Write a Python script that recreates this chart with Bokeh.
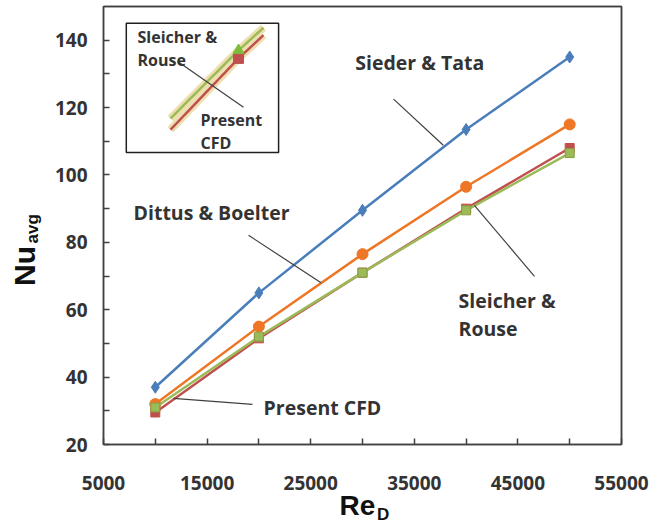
import numpy as np
from bokeh.plotting import figure
from bokeh.models import FixedTicker, Range1d, LinearAxis
from bokeh.core.properties import value
from bokeh.embed import file_html
from bokeh.resources import INLINE

# ---- data ----
re_d = [10000, 20000, 30000, 40000, 50000]
sieder_tata = [37.0, 65.0, 89.5, 113.5, 135.0]
dittus_boelter = [32.0, 55.0, 76.5, 96.5, 115.0]
sleicher_rouse = [31.0, 52.0, 71.0, 89.5, 106.5]
present_cfd = [29.5, 51.5, 71.0, 90.0, 108.0]

x_ticks = [5000, 15000, 25000, 35000, 45000, 55000]
x_minor = [10000, 20000, 30000, 40000, 50000]
y_ticks = [20, 40, 60, 80, 100, 120, 140]
y_minor = [30, 50, 70, 90, 110, 130]

BLUE = "#4A7EBB"
ORANGE = "#EE7625"
GREEN = "#9BBB59"
RED = "#C0504D"
TXT = "#333333"
FONT = "Open Sans"
TFONT = "Liberation Sans"
EDGE = "#404040"

p = figure(frame_width=518, frame_height=438, min_border_left=103, min_border_right=45,
           min_border_top=6, min_border_bottom=85,
           x_range=Range1d(5000, 55000), y_range=Range1d(20, 150),
           output_backend="svg", toolbar_location=None, background_fill_color="white")
p.xgrid.visible = False
p.ygrid.visible = False
p.outline_line_color = EDGE
p.outline_line_width = 1.5

for ax in (p.xaxis[0], p.yaxis[0]):
    ax.axis_line_color = EDGE
    ax.axis_line_width = 1.5
    ax.major_tick_in = 6
    ax.major_tick_out = 0
    ax.minor_tick_in = 6
    ax.minor_tick_out = 0
    ax.major_tick_line_color = EDGE
    ax.minor_tick_line_color = EDGE
    ax.major_tick_line_width = 1.5
    ax.minor_tick_line_width = 1.5
    ax.major_label_text_font = FONT
    ax.major_label_text_font_style = "bold"
    ax.major_label_text_font_size = "19px"
    ax.major_label_text_color = TXT
p.xaxis[0].ticker = FixedTicker(ticks=x_ticks, minor_ticks=x_minor)
p.yaxis[0].ticker = FixedTicker(ticks=y_ticks, minor_ticks=y_minor)
p.xaxis[0].major_label_standoff = 31
p.yaxis[0].major_label_standoff = 16

# frame border on top and right
for side in ("above", "right"):
    b = LinearAxis(ticker=FixedTicker(ticks=[]), axis_line_color=EDGE, axis_line_width=1.5,
                   major_tick_out=0, major_tick_in=0, minor_tick_out=0, minor_tick_in=0,
                   major_label_standoff=0)
    p.add_layout(b, side)

# axis titles with subscripts, each written as the single label of an extra axis
def title_axis(side, pos, txt, size, standoff, vertical=False):
    a = LinearAxis(ticker=FixedTicker(ticks=[pos]), major_label_overrides={pos: txt},
                   axis_line_color=None, major_tick_line_color=None, minor_tick_line_color=None,
                   major_tick_out=0, major_tick_in=0, minor_tick_out=0, minor_tick_in=0,
                   major_label_standoff=standoff, major_label_text_font=TFONT,
                   major_label_text_font_style="bold", major_label_text_font_size=size,
                   major_label_text_color="#111111")
    if vertical:
        a.major_label_orientation = "vertical"
    p.add_layout(a, side)

title_axis("left", 84, "avg", "17px", 9, vertical=True)
title_axis("left", 73, "Nu", "30px", -21, vertical=True)
title_axis("below", 29500, "Re", "28px", -3)
title_axis("below", 32000, "D", "17px", -19)

# ---- series ----
p.line(re_d, sieder_tata, line_color=BLUE, line_width=2.5)
p.scatter(re_d, sieder_tata, marker="diamond", size=12, fill_color=BLUE, line_color=BLUE)
p.line(re_d, dittus_boelter, line_color=ORANGE, line_width=2.5)
p.scatter(re_d, dittus_boelter, marker="circle", size=11, fill_color=ORANGE, line_color=ORANGE)
p.line(re_d, present_cfd, line_color=RED, line_width=2.5)
p.scatter(re_d, present_cfd, marker="square", size=9, fill_color=RED, line_color=RED)
p.line(re_d, sleicher_rouse, line_color=GREEN, line_width=2.5)
p.scatter(re_d, sleicher_rouse, marker="square", size=9, fill_color=GREEN, line_color="#8a9a40")

# ---- callouts and annotations ----
def note(x, y, txt, size="19.5px"):
    p.text([x], [y], text=[txt], text_font=value(FONT), text_font_style="bold",
           text_font_size=size, text_color=TXT, text_baseline="middle", text_align="left")

def lead(x0, y0, x1, y1):
    p.line([x0, x1], [y0, y1], line_color=EDGE, line_width=1.2)

note(29300, 133.5, "Sieder & Tata")
lead(33000, 122.5, 37800, 108.8)
note(7900, 88.9, "Dittus & Boelter")
lead(19000, 82.1, 26000, 68.0)
note(39270, 62.8, "Sleicher &")
note(39270, 54.5, "Rouse")
lead(40800, 91.0, 46600, 69.9)
note(20450, 31.0, "Present CFD")
lead(11750, 33.7, 19380, 31.9)

# ---- inset (magnified view around the 20000 point) ----
p.quad(left=7200, right=21900, bottom=106.7, top=145.0, fill_color="white",
       line_color="#202020", line_width=1.5)
ax0, ay0, sx, sy = 18030.0, 134.6, 3.24, 4.75
xs = np.linspace(20000 - 2026, 20000 + 745, 30)
def inset(xv, yv):
    return ax0 + (np.asarray(xv) - 20000) * sx, ay0 + (np.asarray(yv) - 51.5) * sy
for ser in (present_cfd, sleicher_rouse):
    ix, iy = inset(xs, np.interp(xs, re_d, ser))
    p.line(ix, iy, line_color="#EEDFB0", line_width=8)
for ser, col in ((present_cfd, RED), (sleicher_rouse, GREEN)):
    ix, iy = inset(xs, np.interp(xs, re_d, ser))
    p.line(ix, iy, line_color=col, line_width=2.5)
gx, gy = inset([20000], [sleicher_rouse[1]])
rx, ry = inset([20000], [present_cfd[1]])
p.scatter(rx, ry, marker="square", size=10, fill_color=RED, line_color=RED)
p.scatter(gx, gy, marker="triangle", size=11, fill_color="#7DBB3A", line_color="#7DBB3A")
lead(12240, 133.5, 18510, 120.1)
note(8280, 140.9, "Sleicher &", "16px")
note(8280, 134.0, "Rouse", "16px")
note(14360, 116.2, "Present", "16px")
note(14360, 109.4, "CFD", "16px")

open("out.html", "w").write(file_html(p, INLINE))
